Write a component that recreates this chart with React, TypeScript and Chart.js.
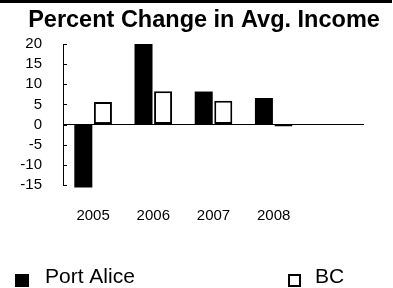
import React, { useEffect, useRef } from "react";
import { Chart, registerables } from "chart.js";

Chart.register(...registerables);

const categories = ["2005", "2006", "2007", "2008", ""];
const portAlice = [-15.6, 20, 8.2, 6.6, null];
const bc = [5.6, 8.3, 5.9, -0.5, null];
const yTicks = [-15, -10, -5, 0, 5, 10, 15, 20];
const seriesNames = ["Port Alice", "BC"];
const titleText = "Percent Change in Avg. Income";

const FONT = '"Liberation Sans", Arimo, sans-serif';

const legendTitleTicks = {
  id: "legendTitleTicks",
  afterDraw(chart: any) {
    const ctx = chart.ctx;
    const y = chart.scales.y;
    ctx.save();
    // title
    ctx.fillStyle = "#000";
    ctx.font = `bold 23.5px ${FONT}`;
    ctx.textAlign = "center";
    ctx.textBaseline = "alphabetic";
    ctx.fillText(titleText, 204, 27);
    // inward tick marks on y axis
    ctx.strokeStyle = "#000";
    ctx.lineWidth = 1;
    yTicks.forEach((v) => {
      const py = Math.round(y.getPixelForValue(v)) + 0.5;
      ctx.beginPath();
      ctx.moveTo(chart.chartArea.left, py);
      ctx.lineTo(chart.chartArea.left + 4, py);
      ctx.stroke();
    });
    // legend
    const items = [
      { boxX: 15, textX: 45 },
      { boxX: 288, textX: 315 },
    ];
    ctx.font = `21px ${FONT}`;
    ctx.textBaseline = "alphabetic";
    ctx.textAlign = "left";
    chart.data.datasets.forEach((ds: any, i: number) => {
      const it = items[i];
      if (ds.borderWidth) {
        ctx.fillStyle = ds.backgroundColor;
        ctx.fillRect(it.boxX, 274, 13, 13);
        ctx.lineWidth = 2;
        ctx.strokeStyle = ds.borderColor;
        ctx.strokeRect(it.boxX + 1, 275, 11, 11);
      } else {
        ctx.fillStyle = ds.backgroundColor;
        ctx.fillRect(it.boxX, 274, 14, 13);
      }
      ctx.fillStyle = "#000";
      ctx.fillText(ds.label, it.textX, 283);
    });
    ctx.restore();
  },
};

export default function App() {
  const ref = useRef<HTMLCanvasElement>(null);
  useEffect(() => {
    if (!ref.current) return;
    const chart = new Chart(ref.current, {
      type: "bar",
      data: {
        labels: categories,
        datasets: [
          {
            label: seriesNames[0],
            data: portAlice,
            backgroundColor: "#000",
            borderWidth: 0,
            clip: false,
          } as any,
          {
            label: seriesNames[1],
            data: bc,
            backgroundColor: "#fff",
            borderColor: "#000",
            borderWidth: 2,
            borderSkipped: false,
            clip: false,
          } as any,
        ],
      },
      options: {
        animation: false,
        responsive: true,
        maintainAspectRatio: false,
        layout: { padding: { left: 0, right: 29, top: 44, bottom: 0 } },
        datasets: {
          bar: { categoryPercentage: 0.65, barPercentage: 0.92 },
        },
        plugins: {
          legend: { display: false },
          tooltip: { enabled: false },
          title: { display: false },
        },
        scales: {
          x: {
            grid: { display: false, drawTicks: false },
            border: { display: false },
            ticks: {
              color: "#000",
              font: { family: FONT, size: 15 },
              padding: 22,
              maxRotation: 0,
              autoSkip: false,
            },
            afterFit: (s: any) => {
              s.height = 103;
            },
          },
          y: {
            min: -15,
            max: 20,
            afterBuildTicks: (s: any) => {
              s.ticks = yTicks.map((v) => ({ value: v }));
            },
            grid: {
              drawTicks: false,
              color: (c: any) => (c.tick && c.tick.value === 0 ? "#000" : "rgba(0,0,0,0)"),
              lineWidth: 1,
            },
            border: { display: true, color: "#000", width: 1 },
            ticks: {
              color: "#000",
              font: { family: FONT, size: 15 },
              padding: 21,
              autoSkip: false,
            },
            afterFit: (s: any) => {
              s.width = 63;
            },
          },
        },
      },
      plugins: [legendTitleTicks],
    });
    return () => chart.destroy();
  }, []);
  return (
    <div style={{ position: "absolute", left: 0, top: 0, width: 393, height: 288, background: "#fff" }}>
      <canvas ref={ref} />
      <div style={{ position: "absolute", left: 0, top: 0, width: 392, height: 3, background: "#000" }} />
    </div>
  );
}
